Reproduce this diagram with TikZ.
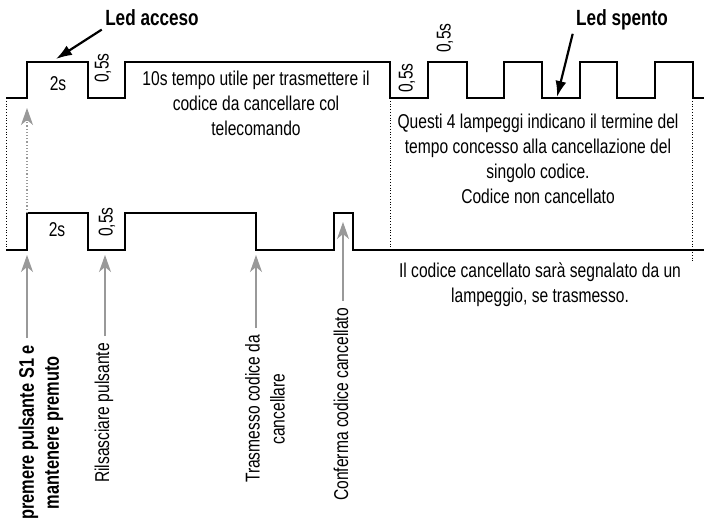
\documentclass[tikz,border=0pt]{standalone}
\usepackage{fontspec}
\setmainfont{Liberation Sans}[FakeStretch=0.78]
\usetikzlibrary{arrows.meta}

\begin{document}
\begin{tikzpicture}[x=1pt, y=-1pt,
	every node/.style={font=\fontsize{20}{25}\selectfont, align=center},
	wave/.style={line width=2.5pt, line join=miter},
	guide/.style={dotted, line width=0.8pt},
	hint/.style={gray!80, line width=1.2pt, -{Stealth[length=17pt, width=12pt, inset=5pt]}},
	ledarrow/.style={line width=2.2pt, -{Latex[length=16pt, width=11pt]}},
	vlabel/.style={rotate=90, anchor=east, inner sep=7pt},
	title/.style={font=\fontsize{22}{25}\selectfont\bfseries}]
	\useasboundingbox (0,0) rectangle (704,521);
	\clip (0,0) rectangle (704,521);
	% led
	\draw[wave] (6,98) -- (27,98) -- (27,62) -- (88,62) -- (88,98) -- (125,98) -- (125,62) -- (390,62) -- (390,98)
		-- (428,98) -- (428,62) -- (467,62) -- (467,98) -- (504,98) -- (504,62) -- (542,62) -- (542,98)
		-- (580,98) -- (580,62) -- (617,62) -- (617,98) -- (655,98) -- (655,62) -- (693,62) -- (693,98) -- (704,98);
	% pulsante / telecomando
	\draw[wave] (6,250) -- (27,250) -- (27,213) -- (88,213) -- (88,250) -- (125,250) -- (125,213) -- (256,213) -- (256,250)
		-- (334,250) -- (334,213) -- (353,213) -- (353,250) -- (704,250);
	\draw[guide] (6,98) -- (6,250);
	\draw[guide] (390,98) -- (390,250);
	\draw[guide] (692,98) -- (692,262);
	\node (tTwo) at (58,84) {2s};
	\node[rotate=90] (tHalfA) at (103,68) {0,5s};
	\node (tUseful) at (256,103) {10s tempo utile per trasmettere il\\codice da cancellare col\\telecomando};
	\node[rotate=90] (tHalfB) at (407,78) {0,5s};
	\node[rotate=90] (tHalfC) at (445,38) {0,5s};
	\node (tBlink) at (538,159) {Questi 4 lampeggi indicano il termine del\\tempo concesso alla cancellazione del\\singolo codice.\\Codice non cancellato};
	\node (bTwo) at (57,230) {2s};
	\node[rotate=90] (bHalf) at (107,222) {0,5s};
	\node (bNote) at (540,285) {Il codice cancellato sarà segnalato da un\\lampeggio, se trasmesso.};
	\node[title] (ledOn) at (152,18) {Led acceso};
	\node[title] (ledOff) at (622,20) {Led spento};
	\coordinate (ledOnTip) at (56,59);
	\coordinate (ledOffTip) at (557,97);
	\draw[ledarrow] (ledOn.south west) -- (ledOnTip);
	\draw[ledarrow] (ledOff.south west) -- (ledOffTip);
	% azioni
	\node[vlabel, font=\fontsize{21}{25}\selectfont\bfseries] (pressLbl) at (41,338) {premere pulsante S1 e\\mantenere premuto};
	\node[vlabel] (releaseLbl) at (104,336) {Rilsasciare pulsante};
	\node[vlabel] (sendLbl) at (265,328) {Trasmesso codice da\\cancellare};
	\node[vlabel] (confirmLbl) at (341,301) {Conferma codice cancellato};
	\coordinate (ledTip) at (27,108);
	\coordinate (pressTip) at (27,255);
	\coordinate (releaseTip) at (105,255);
	\coordinate (sendTip) at (256,255);
	\coordinate (confirmTip) at (343,222);
	\draw[hint, dotted] (27,213) -- (ledTip);
	\draw[hint] (pressLbl.east -| pressTip) -- (pressTip);
	\draw[hint] (releaseLbl.east -| releaseTip) -- (releaseTip);
	\draw[hint] (sendLbl.east -| sendTip) -- (sendTip);
	\draw[hint] (confirmLbl.east -| confirmTip) -- (confirmTip);
\end{tikzpicture}
\end{document}
